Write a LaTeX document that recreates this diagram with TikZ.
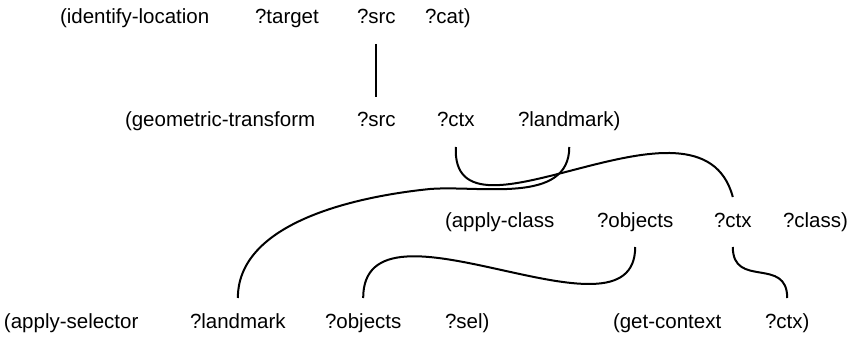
\documentclass[tikz,border=0pt]{standalone}
\usepackage{fontspec}
\setmainfont{Liberation Sans}
\usetikzlibrary{positioning}
\tikzset{
  term/.style={font=\fontsize{20.5}{24}\selectfont, anchor=base west, inner sep=0pt,
    outer xsep=0pt, outer ysep=16pt, text height=14pt, text depth=4pt},
  link/.style={line width=2pt, draw=black}
}

\begin{document}
\begin{tikzpicture}[x=1pt, y=-1pt]
  \useasboundingbox (0,0) rectangle (858,339);

  % identify-location
  \node[term] (identify) at (60,24) {(identify-location};
  \node[term] (target1) at (255,24) {?target};
  \node[term] (src1) at (357,24) {?src};
  \node[term] (cat1) at (425,24) {?cat)};

  % geometric-transform
  \node[term] (geometric) at (125,127) {(geometric-transform};
  \node[term] (src2) at (357,127) {?src};
  \node[term] (ctx2) at (437,127) {?ctx};
  \node[term] (landmark2) at (518,127) {?landmark)};

  % apply-class
  \node[term] (applyclass) at (445,227) {(apply-class};
  \node[term] (objects3) at (597,227) {?objects};
  \node[term] (ctx3) at (714,227) {?ctx};
  \node[term] (class3) at (783,227) {?class)};

  % apply-selector, get-context
  \node[term] (applysel) at (4,328) {(apply-selector};
  \node[term] (landmark4) at (190,328) {?landmark};
  \node[term] (objects4) at (325,328) {?objects};
  \node[term] (sel4) at (445,328) {?sel)};
  \node[term] (getctx) at (613,328) {(get-context};
  \node[term] (ctx4) at (765,328) {?ctx)};

  \draw[link] (src1) -- (src2);
  \draw[link] (ctx2.south) .. controls +(-5,113) and +(-33,-123) .. (ctx3.north);
  \draw[link] (landmark2.south) .. controls +(0,58) and (480,185) .. (430,189)
    .. controls (370,195) and +(0,-80) .. (landmark4.north);
  \draw[link] (objects3.south) .. controls +(0,107) and +(0,-115) .. (objects4.north);
  \draw[link] (ctx3.south) .. controls +(0,42) and +(0,-42) .. (ctx4.north);
\end{tikzpicture}
\end{document}
